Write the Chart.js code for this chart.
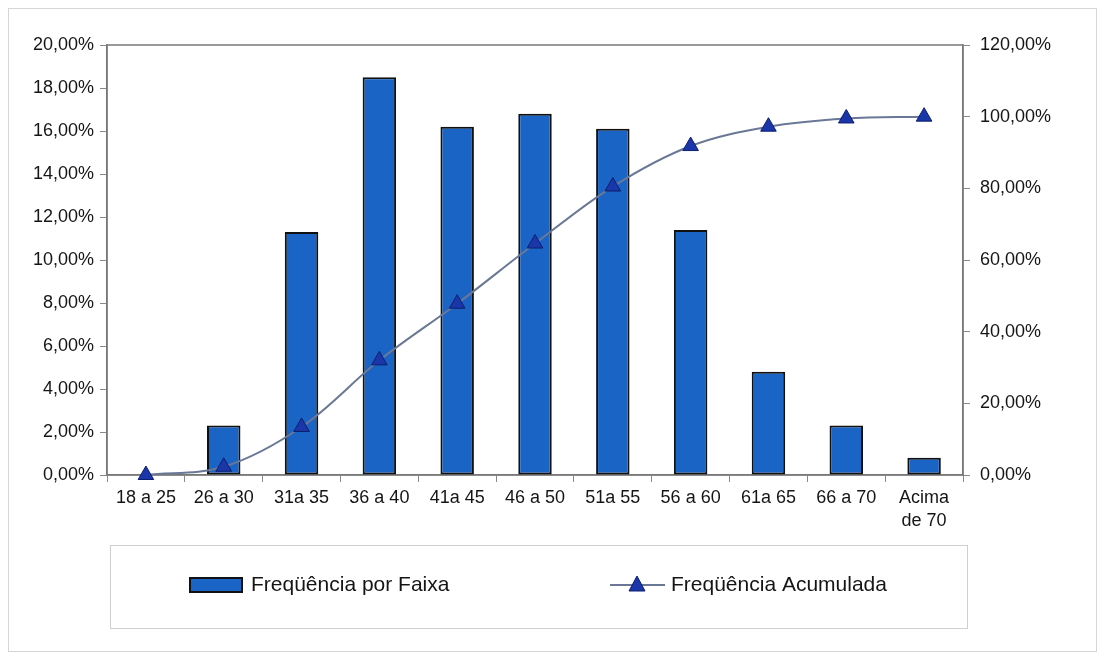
<!DOCTYPE html>
<html>
<head>
<meta charset="utf-8">
<title>Freqüência por Faixa</title>
<script src="https://cdn.jsdelivr.net/npm/chart.js@4"></script>
<style>
  html, body { margin: 0; padding: 0; background: #ffffff; }
  #wrap { width: 1104px; height: 658px; position: relative; }
</style>
</head>
<body>
<div id="wrap"><canvas id="faixaChart" width="1104" height="658"></canvas></div>
<script>
// age bands
const faixas = ['18 a 25', '26 a 30', '31a 35', '36 a 40', '41a 45', '46 a 50',
                '51a 55', '56 a 60', '61a 65', '66 a 70', ['Acima', 'de 70']];
// share of each band, in percent
const freqFaixa = [0, 2.3, 11.3, 18.5, 16.2, 16.8, 16.1, 11.4, 4.8, 2.3, 0.8];
// running total, in percent
const freqAcumulada = [0, 2.3, 13.4, 32.0, 47.8, 64.6, 80.5, 91.8, 97.2, 99.5, 100.0];

const leftTicks = [0, 2, 4, 6, 8, 10, 12, 14, 16, 18, 20];
const rightTicks = [0, 20, 40, 60, 80, 100, 120];

const barBlue = '#1a64c6';
const markerBlue = '#1a36a8';
const lineGrey = '#6a7896';
const textColor = '#151515';
const font = 'Liberation Sans, Arial, sans-serif';

function pct(v) {
    return v.toFixed(2).replace('.', ',') + '%';
}

// frame around the plot area plus the outer border
const frame = {
    id: 'frame',
    beforeDraw(chart) {
        const ctx = chart.ctx;
        ctx.save();
        ctx.fillStyle = '#ffffff';
        ctx.fillRect(0, 0, chart.width, chart.height);
        ctx.strokeStyle = '#d6d6d6';
        ctx.lineWidth = 1;
        ctx.strokeRect(8.5, 8.5, 1088, 643);
        ctx.restore();
    },
    beforeDatasetsDraw(chart) {
        const a = chart.chartArea;
        const ctx = chart.ctx;
        ctx.save();
        ctx.strokeStyle = '#7a7a7a';
        ctx.lineWidth = 1.5;
        ctx.strokeRect(a.left, a.top, a.right - a.left, a.bottom - a.top);
        ctx.restore();
    }
};

// boxed legend under the axis
const boxLegend = {
    id: 'boxLegend',
    afterDraw(chart) {
        const ctx = chart.ctx;
        const ds = chart.data.datasets;
        ctx.save();
        ctx.strokeStyle = '#cfcfcf';
        ctx.lineWidth = 1;
        ctx.strokeRect(110.5, 545.5, 857, 83);

        const y = 585;
        ctx.fillStyle = barBlue;
        ctx.strokeStyle = '#111111';
        ctx.lineWidth = 2;
        ctx.fillRect(190, y - 7, 52, 14);
        ctx.strokeRect(190, y - 7, 52, 14);

        ctx.font = '21px ' + font;
        ctx.fillStyle = textColor;
        ctx.textBaseline = 'middle';
        ctx.fillText(ds[0].label, 251, y);

        ctx.strokeStyle = lineGrey;
        ctx.lineWidth = 2;
        ctx.beginPath();
        ctx.moveTo(610, y);
        ctx.lineTo(665, y);
        ctx.stroke();
        ctx.fillStyle = markerBlue;
        ctx.strokeStyle = '#0c1f6e';
        ctx.lineWidth = 1;
        ctx.beginPath();
        ctx.moveTo(637, y - 9);
        ctx.lineTo(645, y + 6);
        ctx.lineTo(629, y + 6);
        ctx.closePath();
        ctx.fill();
        ctx.stroke();

        ctx.fillStyle = textColor;
        ctx.fillText(ds[1].label, 671, y);
        ctx.restore();
    }
};

const ctx = document.getElementById('faixaChart').getContext('2d');
const faixaChart = new Chart(ctx, {
    data: {
        labels: faixas,
        datasets: [{
            type: 'bar',
            label: 'Freqüência por Faixa',
            data: freqFaixa,
            yAxisID: 'y',
            backgroundColor: barBlue,
            borderColor: '#111111',
            borderWidth: 2,
            borderSkipped: false,
            barPercentage: 0.43,
            categoryPercentage: 1,
            order: 2
        }, {
            type: 'line',
            label: 'Freqüência Acumulada',
            data: freqAcumulada,
            yAxisID: 'y1',
            borderColor: lineGrey,
            borderWidth: 2,
            tension: 0.35,
            clip: false,
            pointStyle: 'triangle',
            pointRadius: 9,
            pointBackgroundColor: markerBlue,
            pointBorderColor: '#0c1f6e',
            pointBorderWidth: 1,
            order: 1
        }]
    },
    options: {
        responsive: false,
        animation: false,
        layout: { padding: { top: 45, left: 0, right: 0, bottom: 0 } },
        plugins: {
            legend: { display: false },
            tooltip: { enabled: false }
        },
        scales: {
            x: {
                offset: true,
                grid: { offset: true, drawOnChartArea: false, tickLength: 7, color: '#8a8a8a' },
                border: { color: '#7a7a7a', width: 1.5 },
                ticks: {
                    color: textColor, padding: 5, maxRotation: 0, autoSkip: false,
                    font: { family: font, size: 18, lineHeight: 1.27 }
                },
                afterFit(scale) { scale.height = 183; }
            },
            y: {
                position: 'left',
                min: 0, max: 20,
                afterBuildTicks(scale) { scale.ticks = leftTicks.map(v => ({ value: v })); },
                grid: { drawOnChartArea: false, tickLength: 7, color: '#8a8a8a' },
                border: { color: '#7a7a7a', width: 1.5 },
                ticks: {
                    color: textColor, padding: 6,
                    font: { family: font, size: 18 },
                    callback: v => pct(v)
                },
                afterFit(scale) { scale.width = 107; }
            },
            y1: {
                position: 'right',
                min: 0, max: 120,
                afterBuildTicks(scale) { scale.ticks = rightTicks.map(v => ({ value: v })); },
                grid: { drawOnChartArea: false, tickLength: 7, color: '#8a8a8a' },
                border: { color: '#7a7a7a', width: 1.5 },
                ticks: {
                    color: textColor, padding: 10,
                    font: { family: font, size: 18 },
                    callback: v => pct(v)
                },
                afterFit(scale) { scale.width = 141; }
            }
        }
    },
    plugins: [frame, boxLegend]
});
</script>
</body>
</html>
